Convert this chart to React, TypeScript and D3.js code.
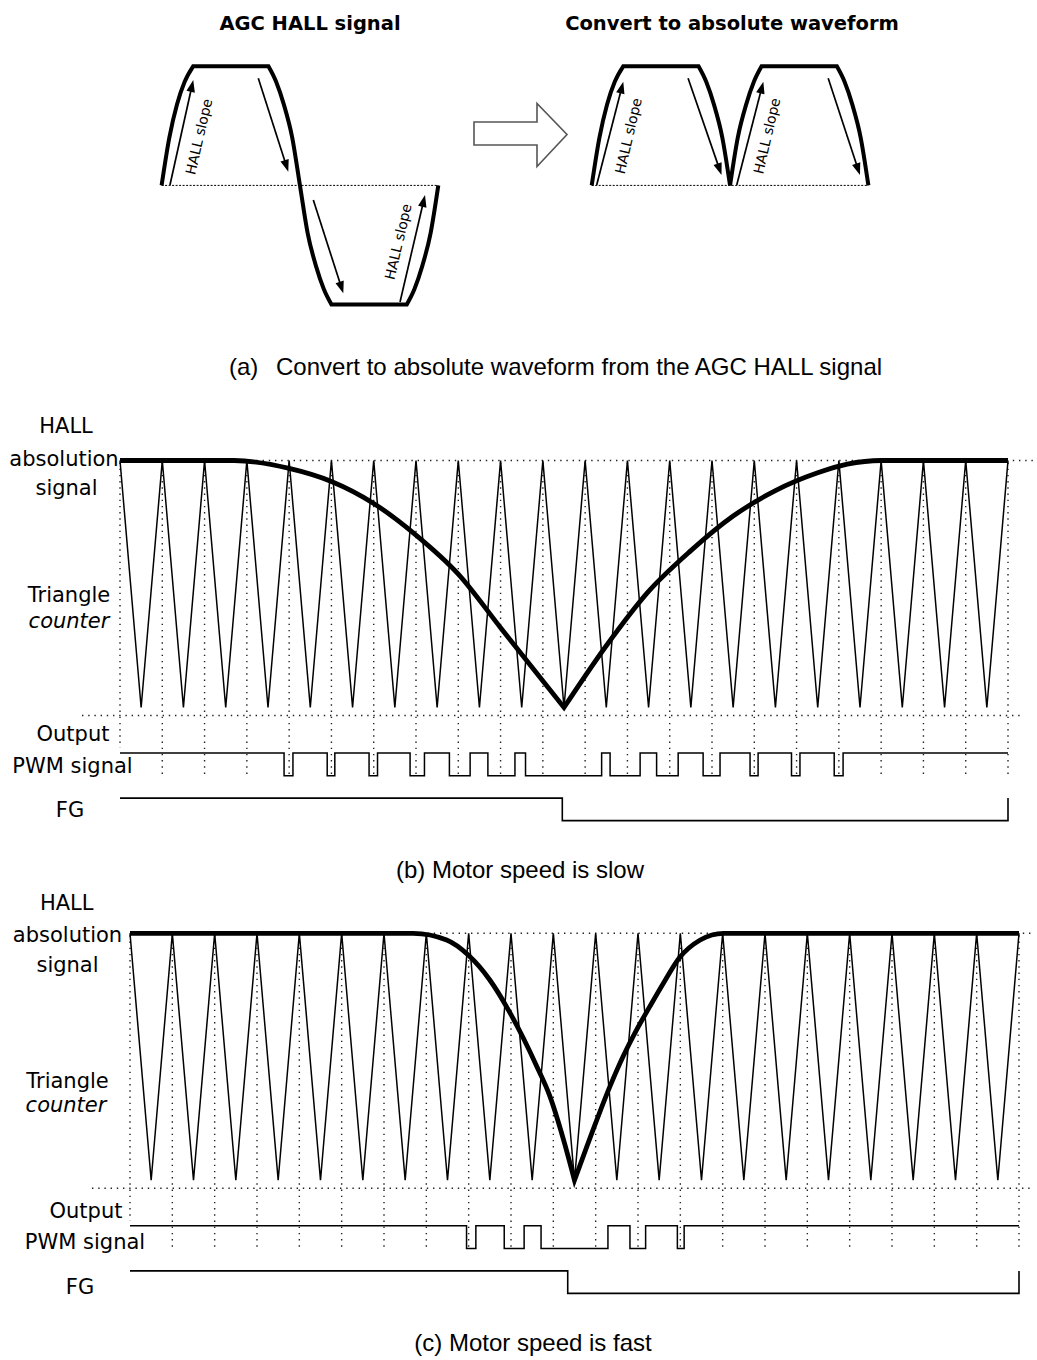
import React from 'react';
import * as d3 from 'd3';

// ---------------- (a) AGC HALL signal (phase in degrees, level -1..1) ----------------
const AGC_PHASE = [0, 10, 20, 30, 41, 139, 149, 159, 170, 180, 190, 201, 211, 221, 319, 329, 339, 350, 360];
const AGC_LEVEL = [0, 0.4, 0.68, 0.87, 1, 1, 0.87, 0.68, 0.4, 0, -0.4, -0.68, -0.87, -1, -1, -0.87, -0.68, -0.4, 0];
// arrows: [phase0, level0, phase1, level1]
const AGC_ARROWS = [
  [10.9, 0.003, 41.2, 0.885],
  [125.8, 0.9, 164.8, 0.115],
  [197.4, -0.123, 236.4, -0.906],
  [310.2, -0.979, 342.7, -0.081],
];
const ABS_ARROWS = [
  [6.5, 0.003, 41.1, 0.871],
  [125.4, 0.9, 168.9, 0.087],
  [188.7, 0.003, 223.3, 0.871],
  [307.7, 0.9, 349, 0.087],
];
const AGC_SLOPE_LABELS = [
  [48.5, 0.41],
  [307.8, -0.473],
];
const ABS_SLOPE_LABELS = [
  [47.6, 0.416],
  [227.8, 0.416],
];
const SLOPE_TEXT = 'HALL slope';
const TITLE_LEFT = 'AGC HALL signal';
const TITLE_RIGHT = 'Convert to absolute waveform';
const CAPTION_A_TAG = '(a)';
const CAPTION_A = 'Convert to absolute waveform from the AGC HALL signal';
const CAPTION_B = '(b) Motor speed is slow';
const CAPTION_C = '(c) Motor speed is fast';

// ---------------- (b)/(c) timing diagrams (time in triangle periods) ----------------
const TRIANGLE_PERIODS = 21;

const HALL_B_LEFT_T = [0, 2.7, 4.0, 5.0, 6.0, 7.0, 8.0, 9.0, 10.5];
const HALL_B_LEFT_V = [1, 1, 0.968, 0.915, 0.826, 0.698, 0.54, 0.323, 0];
const HALL_B_RIGHT_T = [10.5, 11.5, 12.5, 13.5, 14.5, 15.5, 16.5, 17.2, 18, 21];
const HALL_B_RIGHT_V = [0, 0.25, 0.47, 0.635, 0.775, 0.878, 0.95, 0.985, 1, 1];
const PWM_B_LOW = [
  [3.88, 4.09], [4.9, 5.08], [5.89, 6.09], [6.86, 7.2], [7.79, 8.28], [8.7, 9.34],
  [9.59, 11.39], [11.59, 12.3], [12.69, 13.2], [13.79, 14.19], [14.9, 15.09],
  [15.88, 16.08], [16.89, 17.1],
];
const FG_B_EDGE = 10.46;

const HALL_C_LEFT_T = [0, 6.69, 7.48, 7.99, 8.5, 8.98, 9.29, 9.61, 9.92, 10.24, 10.5];
const HALL_C_LEFT_V = [1, 1, 0.973, 0.912, 0.811, 0.677, 0.576, 0.461, 0.34, 0.165, 0];
const HALL_C_RIGHT_T = [10.5, 11.03, 11.34, 11.65, 11.97, 12.28, 12.6, 12.97, 13.47, 14.02, 21];
const HALL_C_RIGHT_V = [0, 0.246, 0.381, 0.502, 0.61, 0.704, 0.798, 0.899, 0.973, 1, 1];
const PWM_C_LOW = [[7.95, 8.17], [8.84, 9.31], [9.71, 11.29], [11.81, 12.18], [12.93, 13.09]];
const FG_C_EDGE = 10.34;

const LABELS_B = [
  { text: 'HALL', x: 66, y: 433 },
  { text: 'absolution', x: 64, y: 466 },
  { text: 'signal', x: 66.5, y: 495 },
  { text: 'Triangle', x: 69, y: 602 },
  { text: 'counter', x: 69, y: 628, italic: true },
  { text: 'Output', x: 73, y: 741 },
  { text: 'PWM signal', x: 72.5, y: 773 },
  { text: 'FG', x: 70, y: 817 },
];
const LABELS_C = [
  { text: 'HALL', x: 66.7, y: 910 },
  { text: 'absolution', x: 67.5, y: 942 },
  { text: 'signal', x: 67.5, y: 972 },
  { text: 'Triangle', x: 67.5, y: 1088 },
  { text: 'counter', x: 66, y: 1112, italic: true },
  { text: 'Output', x: 86, y: 1218 },
  { text: 'PWM signal', x: 85, y: 1249 },
  { text: 'FG', x: 80, y: 1294 },
];

const LABEL_FONT = "'DejaVu Sans', Verdana, sans-serif";
const CAPTION_FONT = "'Liberation Sans', Arial, Helvetica, sans-serif";
const DOT = '1.4,4.8';
const DOT_COLOR = '#222';

type P = [number, number];

function joinSegments(segs: P[][], curve: d3.CurveFactory): string {
  const gen = d3.line<P>().curve(curve);
  return segs
    .map((s, i) => {
      const d = gen(s) || '';
      return i === 0 ? d : 'L' + d.slice(1);
    })
    .join('');
}

// split a waveform into monotone pieces at flat corners / turning points
function splitMonotone(pts: P[]): P[][] {
  const segs: P[][] = [];
  let cur: P[] = [pts[0]];
  for (let i = 1; i < pts.length; i++) {
    cur.push(pts[i]);
    const prev = pts[i - 1][1];
    const next = i + 1 < pts.length ? pts[i + 1][1] : null;
    if (next !== null) {
      const s0 = pts[i][1] - prev;
      const s1 = next - pts[i][1];
      if (s0 * s1 <= 0 || s0 === 0 || s1 === 0) {
        segs.push(cur);
        cur = [pts[i]];
      }
    }
  }
  segs.push(cur);
  return segs;
}

function Arrow({ x1, y1, x2, y2 }: { x1: number; y1: number; x2: number; y2: number }) {
  const dx = x2 - x1;
  const dy = y2 - y1;
  const len = Math.hypot(dx, dy);
  const ux = dx / len;
  const uy = dy / len;
  const hl = 12;
  const hw = 4.3;
  const bx = x2 - ux * hl;
  const by = y2 - uy * hl;
  const pts = [
    [x2, y2],
    [bx - uy * hw, by + ux * hw],
    [bx + uy * hw, by - ux * hw],
  ];
  return (
    <g>
      <line x1={x1} y1={y1} x2={bx + ux * 1} y2={by + uy * 1} stroke="#000" strokeWidth={1.7} />
      <polygon points={pts.map((p) => p.join(',')).join(' ')} fill="#000" />
    </g>
  );
}

function PanelA() {
  const yA = d3.scaleLinear().domain([-1, 1]).range([304.5, 66.3]);
  const xL = d3.scaleLinear().domain([0, 360]).range([161.6, 438.3]);
  const xR = d3.scaleLinear().domain([0, 360]).range([591.7, 868.4]);

  const agcPts: P[] = AGC_PHASE.map((p, i) => [xL(p), yA(AGC_LEVEL[i])]);
  const agcPath = joinSegments(splitMonotone(agcPts), d3.curveMonotoneX);
  const absPts: P[] = AGC_PHASE.map((p, i) => [xR(p), yA(Math.abs(AGC_LEVEL[i]))]);
  const absPath = joinSegments(splitMonotone(absPts), d3.curveMonotoneX);

  const slopeText = (x: number, y: number, key: string) => (
    <text
      key={key}
      x={0}
      y={0}
      transform={`translate(${x},${y}) rotate(-77)`}
      textAnchor="middle"
      dominantBaseline="central"
      fontFamily={LABEL_FONT}
      fontSize={14}
      fill="#000"
    >
      {SLOPE_TEXT}
    </text>
  );

  return (
    <g>
      <text x={310} y={30} textAnchor="middle" fontFamily={LABEL_FONT} fontWeight="bold" fontSize={19.5}>
        {TITLE_LEFT}
      </text>
      <text x={732} y={30} textAnchor="middle" fontFamily={LABEL_FONT} fontWeight="bold" fontSize={19.5}>
        {TITLE_RIGHT}
      </text>

      {/* baselines */}
      <line x1={xL(0)} x2={xL(360)} y1={yA(0)} y2={yA(0)} stroke="#000" strokeWidth={1} strokeDasharray="2,1.5" />
      <line x1={xR(0)} x2={xR(360)} y1={yA(0)} y2={yA(0)} stroke="#000" strokeWidth={1} strokeDasharray="2,1.5" />

      <path d={agcPath} fill="none" stroke="#000" strokeWidth={4} strokeLinejoin="miter" />
      <path d={absPath} fill="none" stroke="#000" strokeWidth={4} strokeLinejoin="miter" />

      {AGC_ARROWS.map((a, i) => (
        <Arrow key={'aa' + i} x1={xL(a[0])} y1={yA(a[1])} x2={xL(a[2])} y2={yA(a[3])} />
      ))}
      {ABS_ARROWS.map((a, i) => (
        <Arrow key={'ba' + i} x1={xR(a[0])} y1={yA(a[1])} x2={xR(a[2])} y2={yA(a[3])} />
      ))}
      {AGC_SLOPE_LABELS.map((l, i) => slopeText(xL(l[0]), yA(l[1]), 'as' + i))}
      {ABS_SLOPE_LABELS.map((l, i) => slopeText(xR(l[0]), yA(l[1]), 'bs' + i))}

      {/* hollow arrow */}
      <polygon
        points="474,122 537,122 537,103.5 567,134.5 537,166.5 537,145 474,145"
        fill="#fff"
        stroke="#555"
        strokeWidth={1.6}
      />

      <text x={229} y={375} fontFamily={CAPTION_FONT} fontSize={24} fill="#000">
        {CAPTION_A_TAG}
      </text>
      <text x={276} y={375} fontFamily={CAPTION_FONT} fontSize={24} fill="#000">
        {CAPTION_A}
      </text>
    </g>
  );
}

type PanelProps = {
  x0: number;
  x1: number;
  top: number;
  hallLT: number[];
  hallLV: number[];
  hallRT: number[];
  hallRV: number[];
  lows: number[][];
  fgEdge: number;
  topDotExt: number;
  labels: { text: string; x: number; y: number; italic?: boolean }[];
};

function TimingPanel(p: PanelProps) {
  const x = d3.scaleLinear().domain([0, TRIANGLE_PERIODS]).range([p.x0, p.x1]);
  const H = 247;
  const y = d3.scaleLinear().domain([0, 1]).range([p.top + H, p.top]);
  const yDotBottom = p.top + 255;
  const pwmHigh = p.top + 292.5;
  const pwmLow = p.top + 315.3;
  const fgHigh = p.top + 337.6;
  const fgLow = p.top + 360.1;

  const triPts: P[] = d3.range(0, TRIANGLE_PERIODS * 2 + 1).map((i) => [x(i / 2), y(i % 2 === 0 ? 1 : 0)]);
  const triPath = d3.line<P>()(triPts) || '';

  const left: P[] = p.hallLT.map((t, i) => [x(t), y(p.hallLV[i])]);
  const right: P[] = p.hallRT.map((t, i) => [x(t), y(p.hallRV[i])]);
  const hallPath = joinSegments([left, right], d3.curveMonotoneX);

  const pwmPts: P[] = [[x(0), pwmHigh]];
  p.lows.forEach(([s, e]) => {
    pwmPts.push([x(s), pwmHigh], [x(s), pwmLow], [x(e), pwmLow], [x(e), pwmHigh]);
  });
  pwmPts.push([x(TRIANGLE_PERIODS), pwmHigh]);
  const pwmPath = d3.line<P>()(pwmPts) || '';

  const fgPts: P[] = [
    [x(0), fgHigh],
    [x(p.fgEdge), fgHigh],
    [x(p.fgEdge), fgLow],
    [x(TRIANGLE_PERIODS), fgLow],
    [x(TRIANGLE_PERIODS), fgHigh],
  ];
  const fgPath = d3.line<P>()(fgPts) || '';

  const ticks = d3.range(0, TRIANGLE_PERIODS + 1);

  return (
    <g>
      {/* dotted grid */}
      <line x1={x(0)} x2={x(TRIANGLE_PERIODS) + p.topDotExt} y1={y(1)} y2={y(1)} stroke={DOT_COLOR} strokeWidth={1.4} strokeDasharray={DOT} />
      <line x1={x(0) - 38} x2={x(TRIANGLE_PERIODS) + 14} y1={yDotBottom} y2={yDotBottom} stroke={DOT_COLOR} strokeWidth={1.4} strokeDasharray={DOT} />
      {ticks.map((t) => (
        <line
          key={t}
          x1={x(t)}
          x2={x(t)}
          y1={y(1) + 2}
          y2={t === 0 ? pwmHigh - 5 : pwmLow}
          stroke={DOT_COLOR}
          strokeWidth={1.4}
          strokeDasharray={DOT}
        />
      ))}

      <path d={triPath} fill="none" stroke="#000" strokeWidth={1.5} strokeLinejoin="miter" />
      <path d={hallPath} fill="none" stroke="#000" strokeWidth={4.8} strokeLinejoin="miter" />
      <path d={pwmPath} fill="none" stroke="#000" strokeWidth={1.5} />
      <path d={fgPath} fill="none" stroke="#000" strokeWidth={1.6} />

      {p.labels.map((l) => (
        <text
          key={l.text}
          x={l.x}
          y={l.y}
          textAnchor="middle"
          fontFamily={LABEL_FONT}
          fontSize={21}
          fontStyle={l.italic ? 'italic' : 'normal'}
          fill="#000"
        >
          {l.text}
        </text>
      ))}
    </g>
  );
}

export default function App() {
  return (
    <svg
      width={1037}
      height={1360}
      viewBox="0 0 1037 1360"
      style={{ position: 'absolute', left: 0, top: 0, background: '#fff' }}
    >
      <rect x={0} y={0} width={1037} height={1360} fill="#fff" />
      <PanelA />
      <TimingPanel
        x0={120}
        x1={1008}
        top={460.5}
        hallLT={HALL_B_LEFT_T}
        hallLV={HALL_B_LEFT_V}
        hallRT={HALL_B_RIGHT_T}
        hallRV={HALL_B_RIGHT_V}
        lows={PWM_B_LOW}
        fgEdge={FG_B_EDGE}
        topDotExt={29}
        labels={LABELS_B}
      />
      <text x={520} y={878} textAnchor="middle" fontFamily={CAPTION_FONT} fontSize={24} fill="#000">
        {CAPTION_B}
      </text>
      <TimingPanel
        x0={130}
        x1={1019}
        top={933.3}
        hallLT={HALL_C_LEFT_T}
        hallLV={HALL_C_LEFT_V}
        hallRT={HALL_C_RIGHT_T}
        hallRV={HALL_C_RIGHT_V}
        lows={PWM_C_LOW}
        fgEdge={FG_C_EDGE}
        topDotExt={13}
        labels={LABELS_C}
      />
      <text x={533} y={1351} textAnchor="middle" fontFamily={CAPTION_FONT} fontSize={24} fill="#000">
        {CAPTION_C}
      </text>
    </svg>
  );
}
